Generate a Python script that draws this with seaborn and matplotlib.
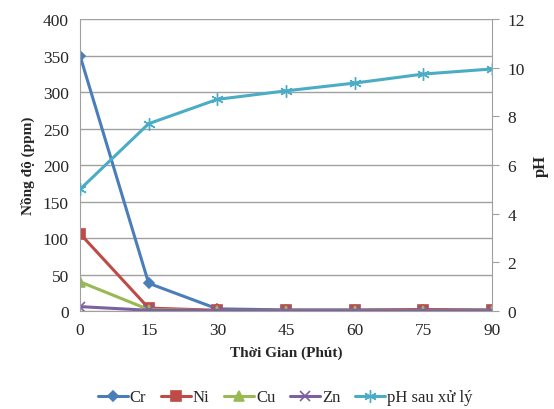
import numpy as np
import pandas as pd
import matplotlib
matplotlib.use("Agg")
import matplotlib.pyplot as plt
import seaborn as sns

# du lieu doc tu bieu do
thoi_gian = [0, 15, 30, 45, 60, 75, 90]
cr = [350, 38, 3, 1.5, 1.5, 1.5, 1.5]
ni = [106, 4, 1, 1, 1, 2, 1]
cu = [40, 2, 0.5, 0.5, 0.5, 0.5, 0.5]
zn = [6, 1, 0.5, 0.3, 0.3, 0.3, 0.3]
ph = [5.0, 7.7, 8.7, 9.05, 9.37, 9.74, 9.95]

sns.set_style("white")
plt.rcParams['font.family'] = ['Liberation Serif', 'DejaVu Serif']

kim_loai = pd.DataFrame({'t': thoi_gian, 'Cr': cr, 'Ni': ni, 'Cu': cu, 'Zn': zn})
data = kim_loai.melt(id_vars='t', var_name='Chat', value_name='Nong do')

mau = {'Cr': '#4A7EBB', 'Ni': '#BE4B48', 'Cu': '#98B954', 'Zn': '#7D60A0'}
marker = {'Cr': 'D', 'Ni': 's', 'Cu': '^', 'Zn': 'x'}
msize = {'Cr': 5.5, 'Ni': 6.5, 'Cu': 7, 'Zn': 7}

fig = plt.figure(figsize=(5.54, 4.10), dpi=100)
ax = fig.add_axes([0.1444, 0.239, 0.7436, 0.712])
for ten in ['Cr', 'Ni', 'Cu', 'Zn']:
    d = data[data['Chat'] == ten]
    sns.lineplot(data=d, x='t', y='Nong do', ax=ax, color=mau[ten], marker=marker[ten],
                 markersize=msize[ten], markeredgecolor=mau[ten], markeredgewidth=1.2,
                 linewidth=2.2, label=ten, legend=False)

ax.set_xlim(0, 90)
ax.set_ylim(0, 400)
ax.set_xticks(thoi_gian)
ax.set_yticks(range(0, 401, 50))
ax.grid(axis='y', color='#A0A0A0', linewidth=1)
ax.grid(axis='x', visible=False)
for s in ['top', 'right']:
    ax.spines[s].set_visible(False)
ax.spines['left'].set_color('#A0A0A0')
ax.spines['bottom'].set_color('#A0A0A0')
ax.tick_params(axis='both', labelsize=12.5, length=0, pad=8)
ax.set_xlabel('Thời Gian (Phút)', fontsize=11, fontweight='bold', labelpad=5)
ax.set_ylabel('Nồng độ (ppm)', fontsize=11, fontweight='bold', labelpad=6)

ax2 = ax.twinx()
sns.lineplot(x=thoi_gian, y=ph, ax=ax2, color='#4BACC6', marker=(6, 2, 0), markersize=9,
             markeredgecolor='#4BACC6', markeredgewidth=1.0, linewidth=2.2,
             label='pH sau xử lý', legend=False)
ax2.set_ylim(0, 12)
ax2.set_yticks(range(0, 13, 2))
ax2.grid(False)
for s in ['top', 'left', 'bottom']:
    ax2.spines[s].set_visible(False)
ax2.spines['right'].set_color('#A0A0A0')
ax2.tick_params(axis='y', labelsize=12.5, length=5, color='#A0A0A0', pad=6)
ax2.set_ylabel('pH', fontsize=12, fontweight='bold', labelpad=6)

h1, l1 = ax.get_legend_handles_labels()
h2, l2 = ax2.get_legend_handles_labels()
fig.legend(h1 + h2, l1 + l2, loc='lower center', bbox_to_anchor=(0.515, -0.028), ncol=5,
           frameon=False, fontsize=12, handlelength=1.8, columnspacing=0.9, handletextpad=0.1)

fig.savefig('out.png', dpi=100)
